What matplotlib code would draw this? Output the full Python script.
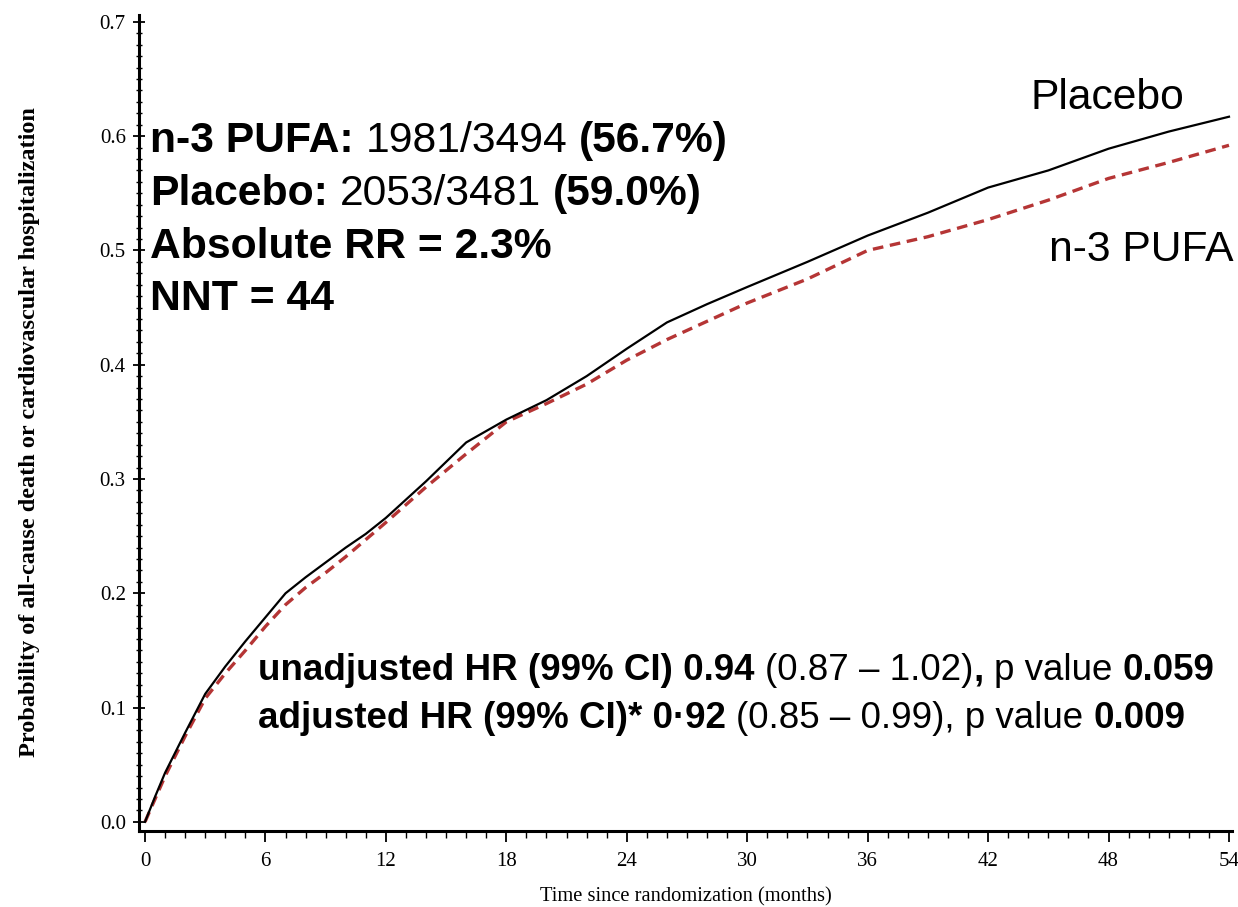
import matplotlib
matplotlib.use('Agg')
import matplotlib.pyplot as plt
from matplotlib.ticker import MultipleLocator

# Kaplan-Meier style cumulative event curves
months = [0, 0.5, 1, 2, 3, 4, 5, 6, 7, 8, 9, 10, 11, 12, 14, 16, 18, 20, 22,
          24, 26, 28, 30, 33, 36, 39, 42, 45, 48, 51, 54]
placebo = [0, 0.022, 0.043, 0.078, 0.112, 0.136, 0.158, 0.179, 0.200, 0.214,
           0.227, 0.240, 0.252, 0.266, 0.298, 0.332, 0.352, 0.369, 0.390,
           0.414, 0.437, 0.453, 0.468, 0.490, 0.513, 0.533, 0.555, 0.570,
           0.589, 0.604, 0.617]
pufa = [0, 0.020, 0.040, 0.075, 0.108, 0.130, 0.150, 0.171, 0.190, 0.205,
        0.218, 0.232, 0.247, 0.262, 0.293, 0.322, 0.350, 0.366, 0.383,
        0.404, 0.422, 0.438, 0.454, 0.475, 0.500, 0.512, 0.527, 0.544,
        0.563, 0.577, 0.592]

x_ticks = [0, 6, 12, 18, 24, 30, 36, 42, 48, 54]
y_ticks = [0.0, 0.1, 0.2, 0.3, 0.4, 0.5, 0.6, 0.7]

W, H = 1238, 907
fig = plt.figure(figsize=(W / 100, H / 100), dpi=100)
ax = fig.add_axes([139 / W, 1 - 831 / H, (1232 - 139) / W, (831 - 15) / H])

ax.plot(months, placebo, color='black', lw=1.6, zorder=3)
ax.plot(months, pufa, color='#b53535', lw=2.4, dashes=(3.2, 2), zorder=2)

ax.set_xlim(-0.3, 54.15)
ax.set_ylim(-0.008, 0.706)
ax.set_xticks(x_ticks)
ax.set_yticks(y_ticks)
ax.set_yticklabels([f'{v:.1f}' for v in y_ticks])
ax.xaxis.set_minor_locator(MultipleLocator(1))
ax.yaxis.set_minor_locator(MultipleLocator(0.01))

serif = 'Liberation Serif'
for lab in ax.get_xticklabels() + ax.get_yticklabels():
    lab.set_family(serif)
    lab.set_fontsize(15)
ax.tick_params(axis='x', which='major', direction='out', length=8, width=1.3, pad=7)
ax.tick_params(axis='x', which='minor', direction='out', length=5, width=1)
ax.tick_params(axis='y', which='major', direction='inout', length=9, width=1.3, pad=5)
ax.tick_params(axis='y', which='minor', direction='inout', length=5, width=1)

for s in ['top', 'right']:
    ax.spines[s].set_visible(False)
for s in ['left', 'bottom']:
    ax.spines[s].set_linewidth(2.2)

ax.set_xlabel('Time since randomization (months)', family=serif, fontsize=14.8, labelpad=12)
fig.text(30 / W, 1 - 432 / H,
         'Probability of all-cause death or cardiovascular hospitalization',
         family=serif, fontweight='bold', fontsize=17.5, rotation=90,
         ha='center', va='center')

sans = 'Liberation Sans'


def rich_line(x_px, y_px, parts, size):
    # parts: (text, bold, gap_before)
    prev = None
    for txt, bold, gap in parts:
        w = 'bold' if bold else 'normal'
        if prev is None:
            prev = fig.text(x_px / W, 1 - y_px / H, txt, fontsize=size,
                            fontweight=w, family=sans, ha='left', va='bottom')
        else:
            prev = ax.annotate(txt, xy=(1, 0), xycoords=prev,
                               xytext=(gap * size * 0.385, 0),
                               textcoords='offset pixels', fontsize=size,
                               fontweight=w, family=sans, ha='left', va='bottom')


rich_line(150, 161, [('n-3 PUFA:', True, 0), ('1981/3494', False, 1), ('(56.7%)', True, 1)], 30.7)
rich_line(150, 214, [('Placebo:', True, 0), ('2053/3481', False, 1), ('(59.0%)', True, 1)], 30.7)
rich_line(150, 267, [('Absolute RR = 2.3%', True, 0)], 30.7)
rich_line(150, 319, [('NNT = 44', True, 0)], 30.7)

rich_line(258, 688, [('unadjusted HR (99% CI) 0.94', True, 0), ('(0.87 \u2013 1.02)', False, 1),
                     (',', True, 0), ('p value', False, 1), ('0.059', True, 1)], 26.5)
rich_line(258, 736, [('adjusted HR (99% CI)* 0\u00b792', True, 0),
                     ('(0.85 \u2013 0.99), p value', False, 1), ('0.009', True, 1)], 26.5)

fig.text(1031 / W, 1 - 118 / H, 'Placebo', family=sans, fontsize=30.7, ha='left', va='bottom')
fig.text(1049 / W, 1 - 270 / H, 'n-3 PUFA', family=sans, fontsize=30.7, ha='left', va='bottom')

fig.savefig('out.png', dpi=100)
